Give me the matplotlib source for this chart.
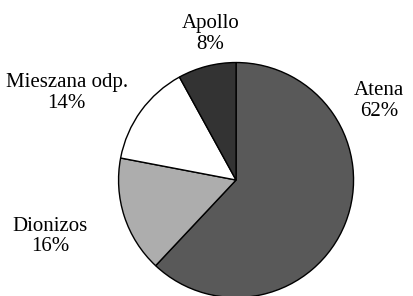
import matplotlib.pyplot as plt

# Dane
etykiety = ['Atena', 'Dionizos', 'Mieszana odp.', 'Apollo']
wartosci = [62, 16, 14, 8]
kolory = ['#595959', '#adadad', '#ffffff', '#333333']

# pozycje podpisow (dane w jednostkach promienia)
pozycje = [(1.22, 0.67), (-1.58, -0.48), (-1.44, 0.74), (-0.22, 1.24)]

plt.rcParams['font.family'] = 'Liberation Serif'

fig = plt.figure(figsize=(4.13, 2.96), dpi=100)
ax = fig.add_axes([0, 0, 1, 1])

ax.pie(wartosci, colors=kolory, startangle=90, counterclock=False,
       wedgeprops=dict(edgecolor='black', linewidth=1.0))

for nazwa, w, (x, y) in zip(etykiety, wartosci, pozycje):
    ax.text(x, y, f'{nazwa}\n{w}%', ha='center', va='center',
            fontsize=15, linespacing=1.12)

ax.set_xlim(-2.009, 1.506)
ax.set_ylim(-0.987, 1.532)
ax.set_aspect('equal')
ax.axis('off')

fig.savefig('out.png', dpi=100)
